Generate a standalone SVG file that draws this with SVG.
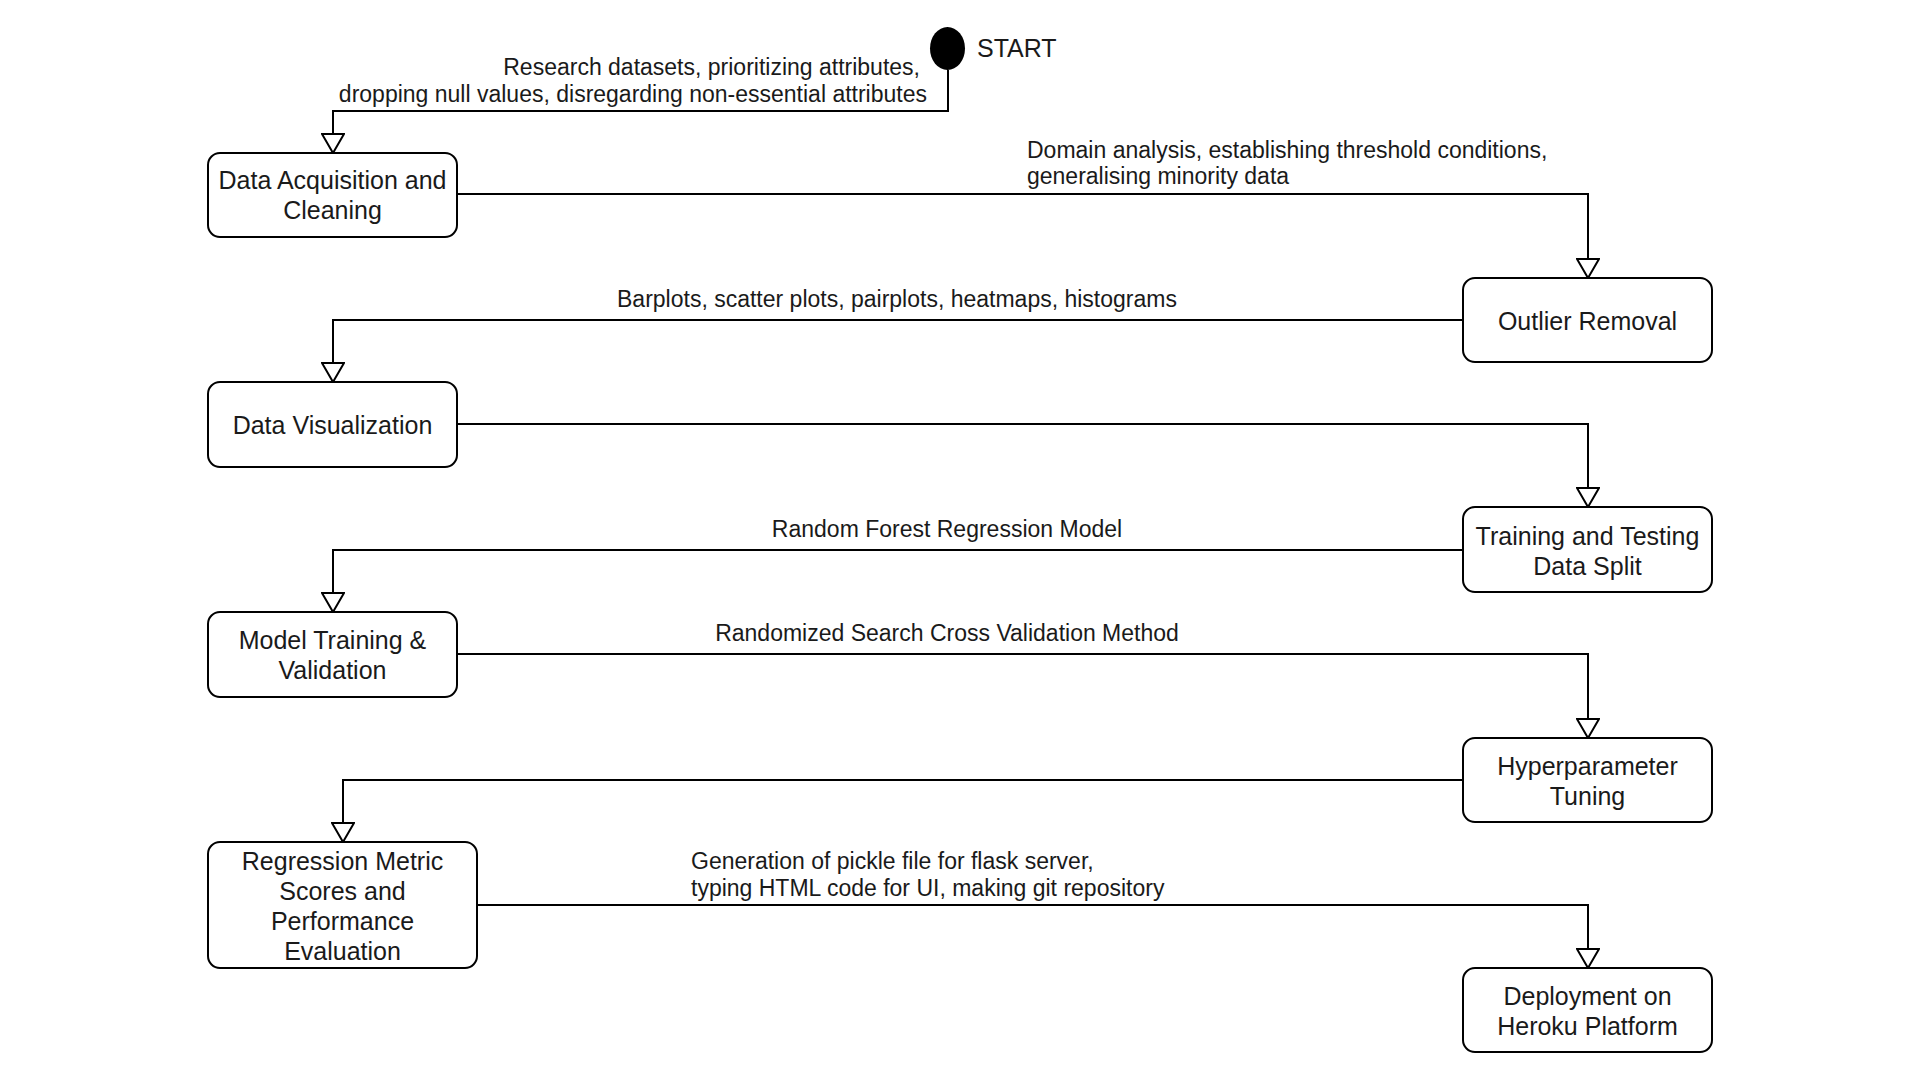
<svg xmlns="http://www.w3.org/2000/svg" width="1920" height="1080" viewBox="0 0 1920 1080">
<style>
.node rect{fill:#ffffff;stroke:#000000;stroke-width:2}
.nt{font-family:"Liberation Sans",Arial,sans-serif;font-size:25px;fill:#1a1a1a;text-anchor:middle}
.lbl{font-family:"Liberation Sans",Arial,sans-serif;font-size:23px;fill:#1a1a1a}
.edge{fill:none;stroke:#000000;stroke-width:2;marker-end:url(#arr)}
</style>
<defs>
<marker id="arr" viewBox="0 0 22 24" refX="20" refY="12" markerWidth="22" markerHeight="24" orient="auto" markerUnits="userSpaceOnUse">
<path d="M1,1 L20,12 L1,23 Z" fill="#ffffff" stroke="#000000" stroke-width="2"/>
</marker>
</defs>
<rect width="1920" height="1080" fill="#ffffff"/>

<g id="connectors">
<path class="edge" d="M948,70 V111 H333 V153"/>
<path class="edge" d="M457,194 H1588 V278"/>
<path class="edge" d="M1463,320 H333 V382"/>
<path class="edge" d="M457,424 H1588 V507"/>
<path class="edge" d="M1463,550 H333 V612"/>
<path class="edge" d="M457,654 H1588 V738"/>
<path class="edge" d="M1463,780 H343 V842"/>
<path class="edge" d="M477,905 H1588 V968"/>
<text class="lbl" text-anchor="end" x="920" y="75">Research datasets, prioritizing attributes,</text>
<text class="lbl" text-anchor="end" x="927" y="102">dropping null values, disregarding non-essential attributes</text>
<text class="lbl" x="1027" y="158">Domain analysis, establishing threshold conditions,</text>
<text class="lbl" x="1027" y="184">generalising minority data</text>
<text class="lbl" text-anchor="middle" x="897" y="307">Barplots, scatter plots, pairplots, heatmaps, histograms</text>
<text class="lbl" text-anchor="middle" x="947" y="537">Random Forest Regression Model</text>
<text class="lbl" text-anchor="middle" x="947" y="641">Randomized Search Cross Validation Method</text>
<text class="lbl" x="691" y="869">Generation of pickle file for flask server,</text>
<text class="lbl" x="691" y="896">typing HTML code for UI, making git repository</text>
</g>

<g id="start">
<ellipse cx="947.5" cy="48.5" rx="17.5" ry="21.5" fill="#000000"/>
<text class="nt" style="text-anchor:start" x="977" y="57">START</text>
</g>

<g id="n1" class="node">
<rect x="208" y="153" width="249" height="84" rx="12"/>
<text class="nt" x="332.5" y="189">Data Acquisition and</text>
<text class="nt" x="332.5" y="219">Cleaning</text>
</g>

<g id="n2" class="node">
<rect x="1463" y="278" width="249" height="84" rx="12"/>
<text class="nt" x="1587.5" y="330">Outlier Removal</text>
</g>

<g id="n3" class="node">
<rect x="208" y="382" width="249" height="85" rx="12"/>
<text class="nt" x="332.5" y="434">Data Visualization</text>
</g>

<g id="n4" class="node">
<rect x="1463" y="507" width="249" height="85" rx="12"/>
<text class="nt" x="1587.5" y="545">Training and Testing</text>
<text class="nt" x="1587.5" y="575">Data Split</text>
</g>

<g id="n5" class="node">
<rect x="208" y="612" width="249" height="85" rx="12"/>
<text class="nt" x="332.5" y="649">Model Training &amp;</text>
<text class="nt" x="332.5" y="679">Validation</text>
</g>

<g id="n6" class="node">
<rect x="1463" y="738" width="249" height="84" rx="12"/>
<text class="nt" x="1587.5" y="775">Hyperparameter</text>
<text class="nt" x="1587.5" y="805">Tuning</text>
</g>

<g id="n7" class="node">
<rect x="208" y="842" width="269" height="126" rx="12"/>
<text class="nt" x="342.5" y="870">Regression Metric</text>
<text class="nt" x="342.5" y="900">Scores and</text>
<text class="nt" x="342.5" y="930">Performance</text>
<text class="nt" x="342.5" y="960">Evaluation</text>
</g>

<g id="n8" class="node">
<rect x="1463" y="968" width="249" height="84" rx="12"/>
<text class="nt" x="1587.5" y="1005">Deployment on</text>
<text class="nt" x="1587.5" y="1035">Heroku Platform</text>
</g>
</svg>
